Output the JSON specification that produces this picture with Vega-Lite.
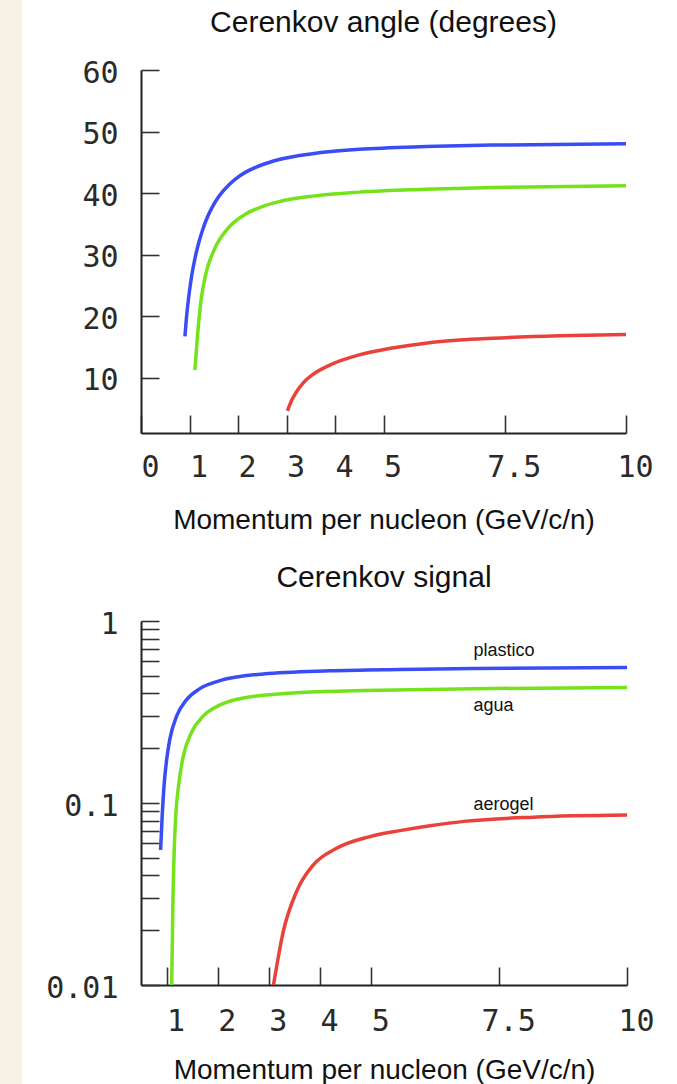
{
  "$schema": "https://vega.github.io/schema/vega-lite/v6.json",
  "background": "white",
  "padding": {"left": 0, "top": 0, "right": 10, "bottom": 2},
  "spacing": 23,
  "config": {
    "view": {"stroke": null},
    "axis": {
      "domainColor": "#222222", "domainWidth": 2,
      "tickColor": "#333333", "tickWidth": 1.6, "tickSize": -18,
      "labelFont": "DejaVu Sans Mono", "labelFontSize": 30, "labelColor": "#2a2a2a",
      "titleFont": "Liberation Sans", "titleFontSize": 28, "titleFontWeight": "normal", "titleColor": "#111111",
      "grid": false, "labelFlush": false, "labelOverlap": false, "labelBound": false
    },
    "title": {"font": "Liberation Sans", "fontSize": 30, "fontWeight": "normal", "color": "#111111", "anchor": "middle", "frame": "group"}
  },
  "datasets": {
    "angle": [
      {"p": 0.906, "v": 16.7, "material": "plastico"},
      {"p": 0.93, "v": 19.1, "material": "plastico"},
      {"p": 0.96, "v": 21.5, "material": "plastico"},
      {"p": 1.0, "v": 24.1, "material": "plastico"},
      {"p": 1.03, "v": 25.8, "material": "plastico"},
      {"p": 1.08, "v": 28.1, "material": "plastico"},
      {"p": 1.13, "v": 30.0, "material": "plastico"},
      {"p": 1.2, "v": 32.2, "material": "plastico"},
      {"p": 1.27, "v": 34.0, "material": "plastico"},
      {"p": 1.37, "v": 36.1, "material": "plastico"},
      {"p": 1.475, "v": 37.8, "material": "plastico"},
      {"p": 1.6, "v": 39.4, "material": "plastico"},
      {"p": 1.82, "v": 41.4, "material": "plastico"},
      {"p": 2.0, "v": 42.6, "material": "plastico"},
      {"p": 2.16, "v": 43.4, "material": "plastico"},
      {"p": 2.5, "v": 44.6, "material": "plastico"},
      {"p": 2.85, "v": 45.45, "material": "plastico"},
      {"p": 3.54, "v": 46.4, "material": "plastico"},
      {"p": 4.5, "v": 47.1, "material": "plastico"},
      {"p": 5.87, "v": 47.55, "material": "plastico"},
      {"p": 7.25, "v": 47.8, "material": "plastico"},
      {"p": 10, "v": 48.0, "material": "plastico"},
      {"p": 1.11, "v": 11.2, "material": "agua"},
      {"p": 1.17, "v": 17.3, "material": "agua"},
      {"p": 1.24, "v": 22.7, "material": "agua"},
      {"p": 1.34, "v": 27.0, "material": "agua"},
      {"p": 1.51, "v": 30.8, "material": "agua"},
      {"p": 1.82, "v": 34.5, "material": "agua"},
      {"p": 2.16, "v": 36.6, "material": "agua"},
      {"p": 2.5, "v": 37.8, "material": "agua"},
      {"p": 2.85, "v": 38.6, "material": "agua"},
      {"p": 3.54, "v": 39.5, "material": "agua"},
      {"p": 4.5, "v": 40.15, "material": "agua"},
      {"p": 5.87, "v": 40.6, "material": "agua"},
      {"p": 7.25, "v": 40.9, "material": "agua"},
      {"p": 10, "v": 41.2, "material": "agua"},
      {"p": 3.02, "v": 4.6, "material": "aerogel"},
      {"p": 3.1, "v": 6.2, "material": "aerogel"},
      {"p": 3.19, "v": 7.5, "material": "aerogel"},
      {"p": 3.35, "v": 9.2, "material": "aerogel"},
      {"p": 3.54, "v": 10.5, "material": "aerogel"},
      {"p": 3.88, "v": 12.0, "material": "aerogel"},
      {"p": 4.5, "v": 13.7, "material": "aerogel"},
      {"p": 5.18, "v": 14.8, "material": "aerogel"},
      {"p": 5.87, "v": 15.6, "material": "aerogel"},
      {"p": 6.56, "v": 16.1, "material": "aerogel"},
      {"p": 7.25, "v": 16.4, "material": "aerogel"},
      {"p": 8.62, "v": 16.8, "material": "aerogel"},
      {"p": 10, "v": 17.0, "material": "aerogel"}
    ],
    "signal": [
      {"p": 0.883, "v": 0.0552, "material": "plastico"},
      {"p": 0.915, "v": 0.086, "material": "plastico"},
      {"p": 0.948, "v": 0.122, "material": "plastico"},
      {"p": 1.0, "v": 0.172, "material": "plastico"},
      {"p": 1.065, "v": 0.225, "material": "plastico"},
      {"p": 1.196, "v": 0.3, "material": "plastico"},
      {"p": 1.391, "v": 0.37, "material": "plastico"},
      {"p": 1.651, "v": 0.425, "material": "plastico"},
      {"p": 2.04, "v": 0.47, "material": "plastico"},
      {"p": 2.89, "v": 0.512, "material": "plastico"},
      {"p": 4.19, "v": 0.533, "material": "plastico"},
      {"p": 5.56, "v": 0.542, "material": "plastico"},
      {"p": 7.0, "v": 0.548, "material": "plastico"},
      {"p": 10, "v": 0.555, "material": "plastico"},
      {"p": 1.1, "v": 0.01, "material": "agua"},
      {"p": 1.125, "v": 0.03, "material": "agua"},
      {"p": 1.15, "v": 0.056, "material": "agua"},
      {"p": 1.18, "v": 0.086, "material": "agua"},
      {"p": 1.235, "v": 0.125, "material": "agua"},
      {"p": 1.325, "v": 0.18, "material": "agua"},
      {"p": 1.489, "v": 0.245, "material": "agua"},
      {"p": 1.716, "v": 0.3, "material": "agua"},
      {"p": 2.04, "v": 0.345, "material": "agua"},
      {"p": 2.56, "v": 0.38, "material": "agua"},
      {"p": 3.54, "v": 0.404, "material": "agua"},
      {"p": 4.84, "v": 0.415, "material": "agua"},
      {"p": 7.0, "v": 0.425, "material": "agua"},
      {"p": 10, "v": 0.431, "material": "agua"},
      {"p": 3.09, "v": 0.01, "material": "aerogel"},
      {"p": 3.28, "v": 0.0196, "material": "aerogel"},
      {"p": 3.54, "v": 0.0326, "material": "aerogel"},
      {"p": 3.866, "v": 0.0456, "material": "aerogel"},
      {"p": 4.323, "v": 0.0564, "material": "aerogel"},
      {"p": 4.974, "v": 0.0654, "material": "aerogel"},
      {"p": 5.56, "v": 0.0705, "material": "aerogel"},
      {"p": 6.15, "v": 0.075, "material": "aerogel"},
      {"p": 6.86, "v": 0.0795, "material": "aerogel"},
      {"p": 8.17, "v": 0.0836, "material": "aerogel"},
      {"p": 10, "v": 0.0858, "material": "aerogel"}
    ],
    "labels": [
      {"p": 7.0, "v": 0.68, "name": "plastico"},
      {"p": 7.0, "v": 0.34, "name": "agua"},
      {"p": 7.0, "v": 0.098, "name": "aerogel"}
    ]
  },
  "hconcat": [
    {
      "width": 22,
      "height": 1014,
      "data": {"values": [{}]},
      "mark": {"type": "rect", "color": "#f5f1e4"},
      "encoding": {
        "y": {"datum": 0, "type": "quantitative", "scale": {"domain": [0, 1], "nice": false, "zero": false}, "axis": null},
        "y2": {"datum": 1.069}
      }
    },
    {
      "spacing": 29,
      "vconcat": [
        {
          "width": 485,
          "height": 363,
          "title": {"text": "Cerenkov angle (degrees)", "offset": 20},
          "data": {"name": "angle"},
          "mark": {"type": "line", "strokeWidth": 3.5, "interpolate": "monotone", "strokeCap": "butt"},
          "encoding": {
            "x": {
              "field": "p", "type": "quantitative",
              "scale": {"domain": [0, 10], "nice": false, "zero": false},
              "axis": {"values": [0, 1, 2, 3, 4, 5, 7.5, 10], "labelExpr": "'' + datum.value", "labelOffset": 9, "labelPadding": 37, "title": "Momentum per nucleon (GeV/c/n)", "titlePadding": 24}
            },
            "y": {
              "field": "v", "type": "quantitative",
              "scale": {"domain": [1, 60], "nice": false, "zero": false},
              "axis": {"values": [10, 20, 30, 40, 50, 60], "labelExpr": "'' + datum.value", "labelOffset": 3, "labelPadding": 41, "title": null}
            },
            "color": {
              "field": "material", "type": "nominal",
              "scale": {"domain": ["plastico", "agua", "aerogel"], "range": ["#3a4cf4", "#76e21c", "#e8423a"]},
              "legend": null
            }
          }
        },
        {
          "width": 486,
          "height": 364,
          "title": {"text": "Cerenkov signal", "offset": 16},
          "layer": [
            {
              "data": {"name": "signal"},
              "mark": {"type": "line", "strokeWidth": 3.5, "interpolate": "monotone", "strokeCap": "butt"},
              "encoding": {
                "x": {
                  "field": "p", "type": "quantitative",
                  "scale": {"domain": [0.5, 10], "nice": false, "zero": false},
                  "axis": {"values": [1, 2, 3, 4, 5, 7.5, 10], "labelExpr": "'' + datum.value", "labelOffset": 9, "labelPadding": 39, "title": "Momentum per nucleon (GeV/c/n)", "titlePadding": 20}
                },
                "y": {
                  "field": "v", "type": "quantitative",
                  "scale": {"type": "log", "domain": [0.01, 1], "nice": false},
                  "axis": {
                    "values": [0.01, 0.02, 0.03, 0.04, 0.05, 0.06, 0.07, 0.08, 0.09, 0.1, 0.2, 0.3, 0.4, 0.5, 0.6, 0.7, 0.8, 0.9, 1],
                    "labelExpr": "datum.value == 1 ? '1' : (datum.value == 0.1 ? '0.1' : (datum.value == 0.01 ? '0.01' : ''))",
                    "labelOffset": 3, "labelPadding": 41, "title": null
                  }
                },
                "color": {
                  "field": "material", "type": "nominal",
                  "scale": {"domain": ["plastico", "agua", "aerogel"], "range": ["#3a4cf4", "#76e21c", "#e8423a"]},
                  "legend": null
                }
              }
            },
            {
              "data": {"name": "labels"},
              "mark": {"type": "text", "align": "left", "baseline": "middle", "font": "Liberation Sans", "fontSize": 18, "color": "#111111"},
              "encoding": {
                "x": {"field": "p", "type": "quantitative"},
                "y": {"field": "v", "type": "quantitative"},
                "text": {"field": "name"}
              }
            }
          ]
        }
      ]
    }
  ]
}
